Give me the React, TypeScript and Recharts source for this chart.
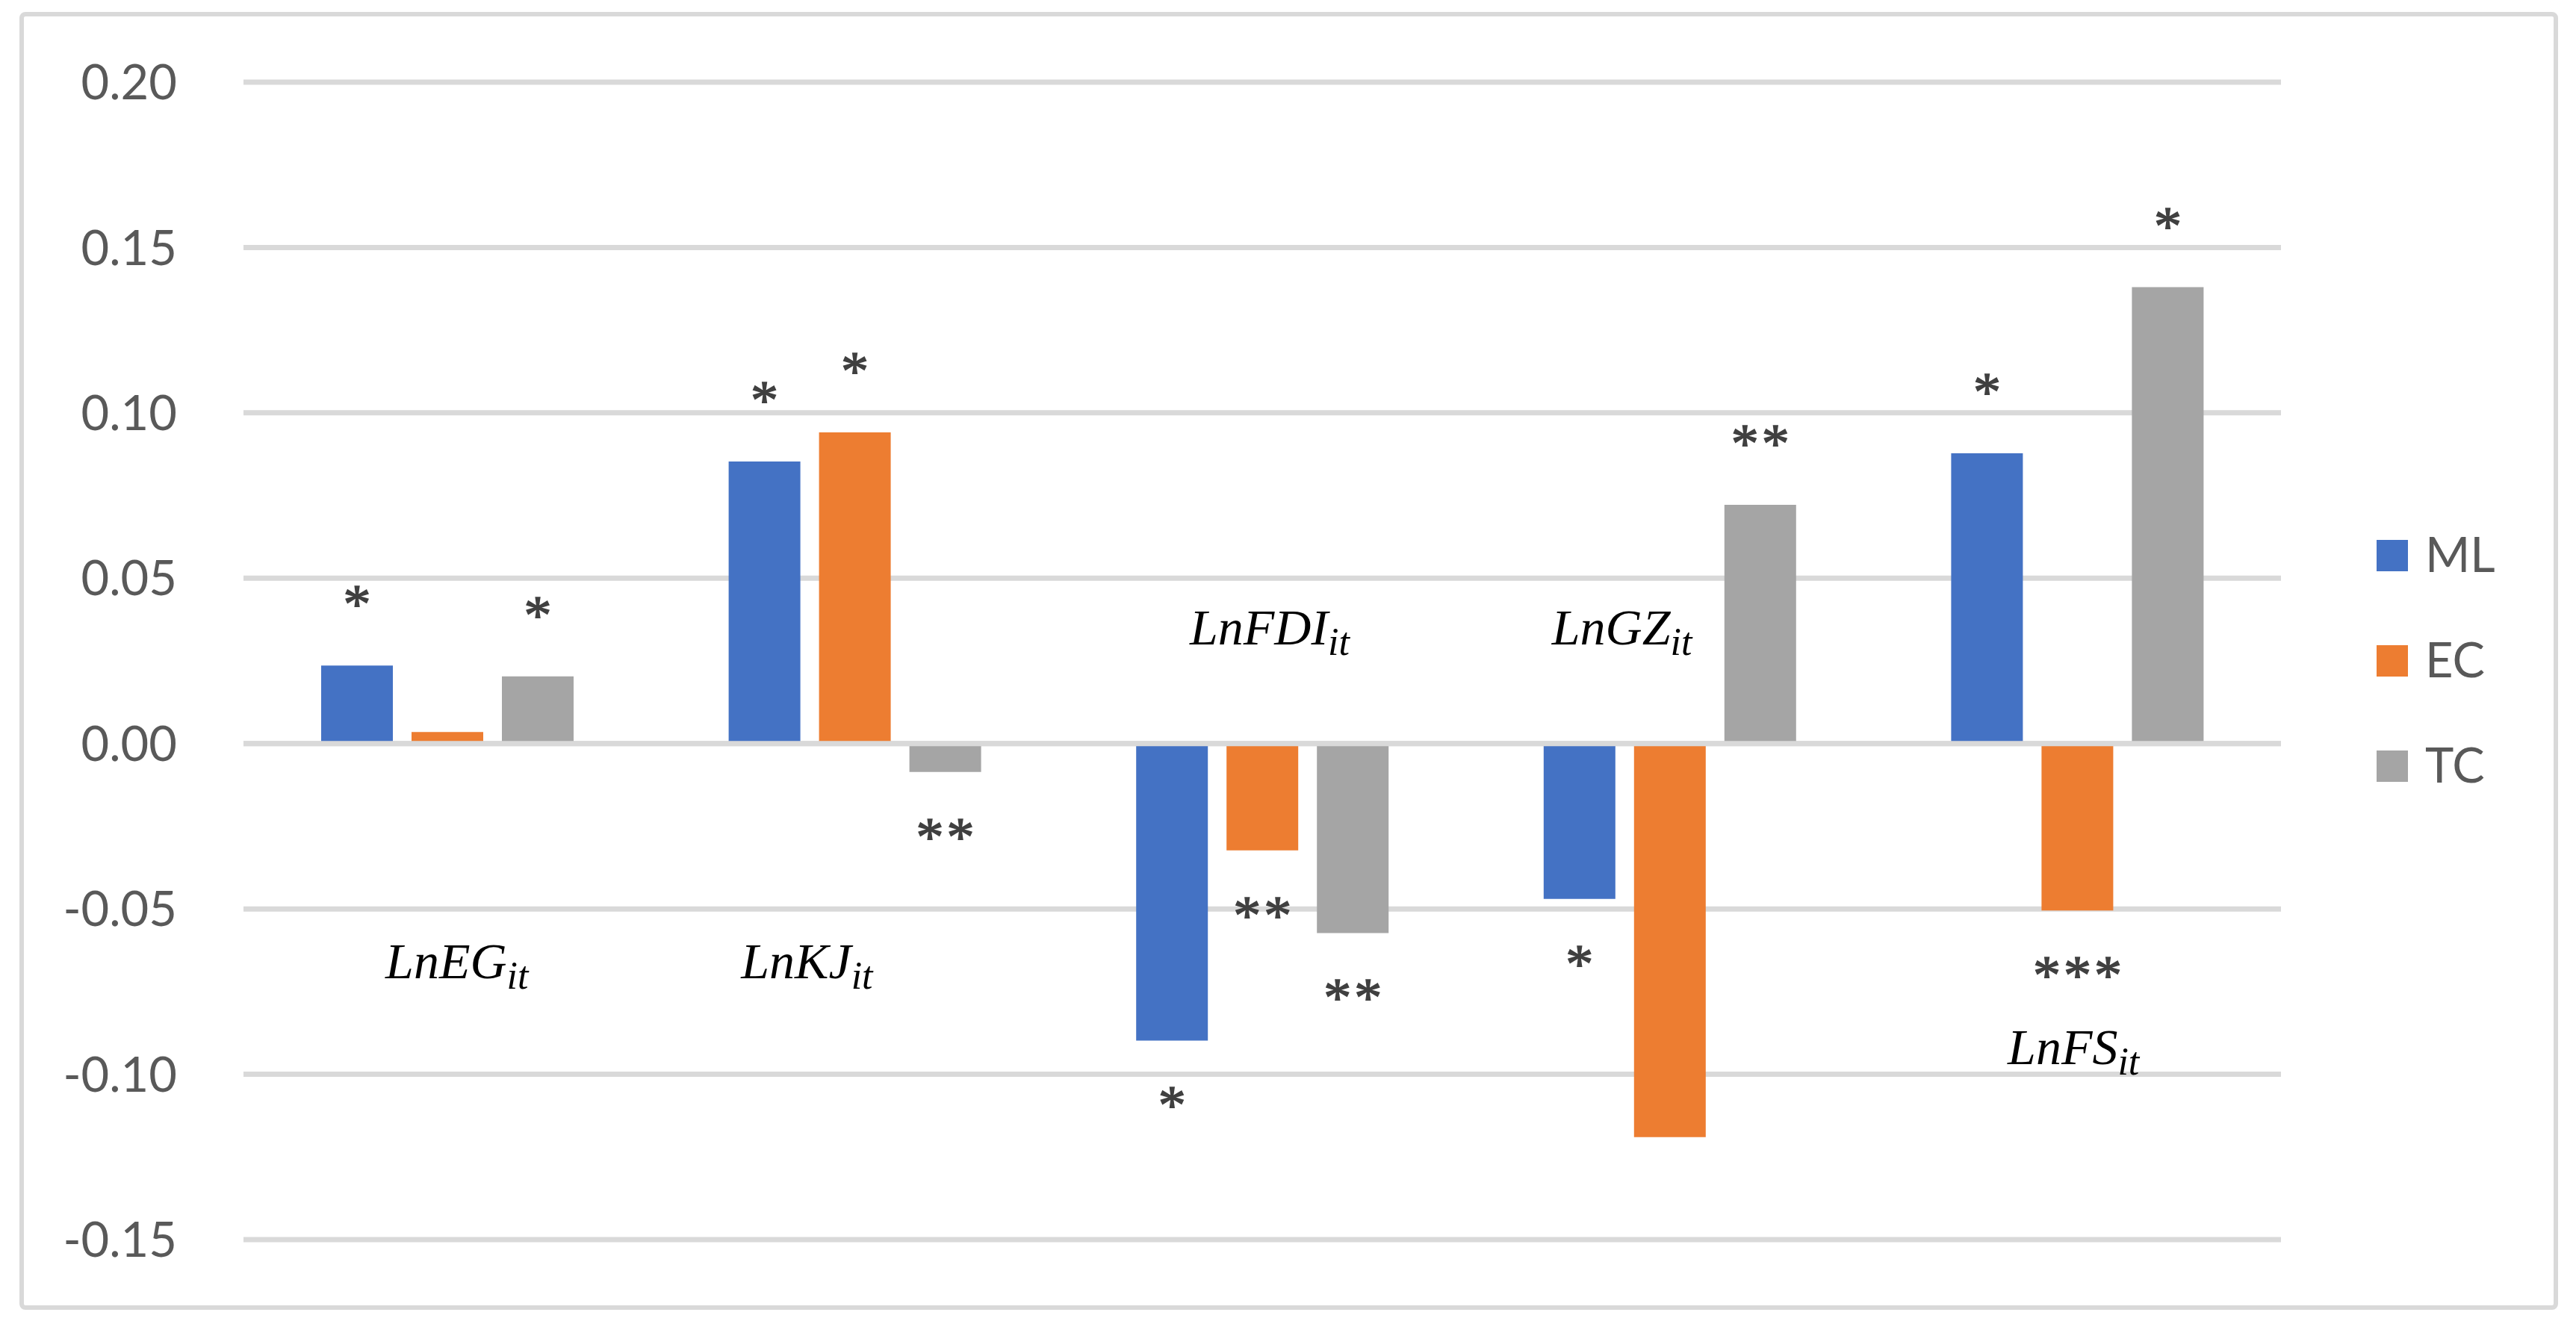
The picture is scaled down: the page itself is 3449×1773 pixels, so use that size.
import {
  Bar,
  BarChart,
  CartesianGrid,
  LabelList,
  Legend,
  ReferenceDot,
  ReferenceLine,
  XAxis,
  YAxis,
} from 'recharts';

const CATEGORIES = ['LnEG', 'LnKJ', 'LnFDI', 'LnGZ', 'LnFS'];
const ML = [0.0236, 0.0853, -0.0898, -0.047, 0.0878];
const EC = [0.0035, 0.0941, -0.0323, -0.119, -0.0505];
const TC = [0.0203, -0.0086, -0.0573, 0.0722, 0.138];

// significance stars printed at the end of each bar
const ML_SIG = ['*', '*', '*', '*', '*'];
const EC_SIG = ['', '*', '**', '', '***'];
const TC_SIG = ['*', '**', '**', '**', '*'];

const Y_TICKS = [-0.15, -0.1, -0.05, 0, 0.05, 0.1, 0.15, 0.2];

// variable names float inside the plot: baseline in axis units, x shift in px
const NAME_Y = [-0.071, -0.071, 0.03, 0.03, -0.097];
const NAME_DX = [13, -64, 10, -64, -5];

const SERIES = [
  { key: 'ML', color: '#4472C4', values: ML, sig: ML_SIG },
  { key: 'EC', color: '#ED7D31', values: EC, sig: EC_SIG },
  { key: 'TC', color: '#A5A5A5', values: TC, sig: TC_SIG },
];

const data = CATEGORIES.map((name, i) => ({ name, ML: ML[i], EC: EC[i], TC: TC[i] }));

const GRID = '#d9d9d9';
const AXIS_FONT = 'Lato, "Open Sans", sans-serif';
const MATH_FONT = '"Liberation Serif", "DejaVu Serif", serif';

function starLabel(values: number[], sig: string[]) {
  return (props: any) => {
    const vb = props.viewBox ?? props;
    const { x, y, width, height } = vb;
    const i = props.index;
    const s = sig[i];
    if (!s) return null;
    const top = Math.min(y, y + height);
    const bottom = Math.max(y, y + height);
    const center = values[i] >= 0 ? top - 92 : bottom + 77;
    return (
      <text
        x={x + width / 2 + 2}
        y={center + 35}
        textAnchor="middle"
        fontFamily={MATH_FONT}
        fontSize={74}
        letterSpacing={4}
        fill="#404040"
        stroke="#404040"
        strokeWidth={1.5}
      >
        {s}
      </text>
    );
  };
}

function VarName({ cx, cy, dx, name }: any) {
  return (
    <text
      x={cx + dx}
      y={cy}
      textAnchor="middle"
      fontFamily={MATH_FONT}
      fontStyle="italic"
      fontSize={68}
      fill="#000"
    >
      {name}
      <tspan fontSize={52} dy={14}>
        it
      </tspan>
    </text>
  );
}

function LegendBox() {
  return (
    <svg width={260} height={400}>
      {SERIES.map((s, i) => (
        <g key={s.key}>
          <rect x={0} y={23 + i * 141} width={42} height={42} fill={s.color} />
          <text x={65} y={66 + i * 141} fontFamily={AXIS_FONT} fontSize={65} fill="#595959">
            {s.key}
          </text>
        </g>
      ))}
    </svg>
  );
}

export default function App() {
  return (
    <div style={{ position: 'absolute', left: 0, top: 0, width: 3449, height: 1773, background: '#fff' }}>
      <div
        style={{
          position: 'absolute',
          left: 26,
          top: 16,
          width: 3399,
          height: 1738,
          border: `6px solid ${GRID}`,
          borderRadius: 8,
          boxSizing: 'border-box',
        }}
      />
      <BarChart
        width={3449}
        height={1773}
        data={data}
        margin={{ top: 110, right: 395, bottom: 113, left: 0 }}
        barGap={25}
        style={{ position: 'absolute', left: 0, top: 0 }}
      >
        <CartesianGrid vertical={false} stroke={GRID} strokeWidth={7} />
        <XAxis dataKey="name" hide />
        <YAxis
          width={326}
          domain={[-0.15, 0.2]}
          ticks={Y_TICKS}
          tickFormatter={(v: number) => v.toFixed(2)}
          axisLine={false}
          tickLine={false}
          tickSize={0}
          tickMargin={89}
          tick={{ fontFamily: AXIS_FONT, fontSize: 65, fill: '#595959' }}
        />
        <Legend
          layout="vertical"
          align="center"
          verticalAlign="middle"
          wrapperStyle={{ left: 3182, top: 700, width: 260, height: 400 }}
          content={() => <LegendBox />}
        />
        {SERIES.map((s) => (
          <Bar key={s.key} dataKey={s.key} fill={s.color} barSize={96} isAnimationActive={false}>
            <LabelList content={starLabel(s.values, s.sig)} />
          </Bar>
        ))}
        <ReferenceLine y={0} stroke={GRID} strokeWidth={7} />
        {CATEGORIES.map((c, i) => (
          <ReferenceDot
            key={c}
            x={c}
            y={NAME_Y[i]}
            r={1}
            shape={(p: any) => <VarName cx={p.cx} cy={p.cy} dx={NAME_DX[i]} name={c} />}
          />
        ))}
      </BarChart>
    </div>
  );
}
